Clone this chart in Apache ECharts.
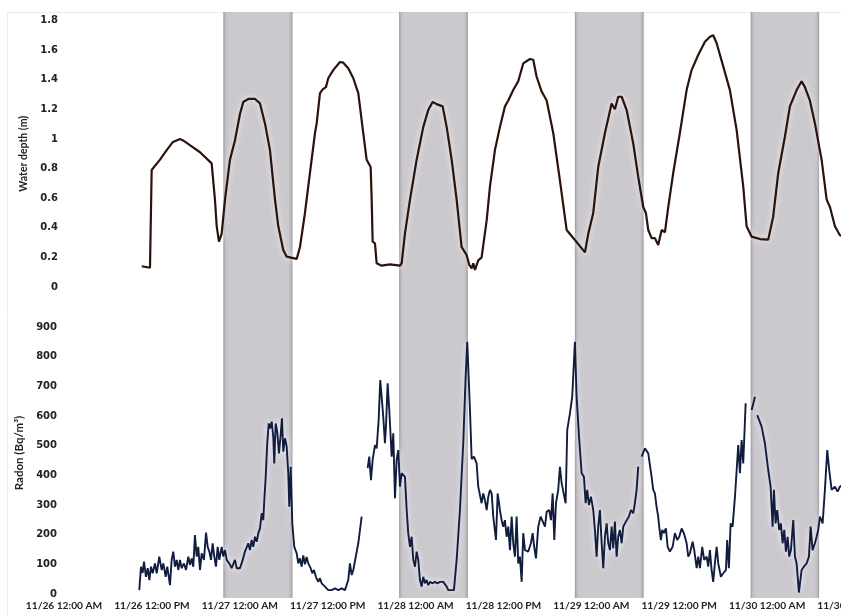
<!DOCTYPE html>
<html><head><meta charset="utf-8">
<script src="https://cdn.jsdelivr.net/npm/echarts@6/dist/echarts.min.js"></script>
<style>html,body{margin:0;padding:0;overflow:hidden;background:#fff;width:841px;height:616px}#c{width:920px;height:616px}</style>
</head><body><div id="c"></div><script>
// Time axis: hours since 11/26 12:00 AM
const xTickLabels = ['11/26 12:00 AM','11/26 12:00 PM','11/27 12:00 AM','11/27 12:00 PM','11/28 12:00 AM','11/28 12:00 PM','11/29 12:00 AM','11/29 12:00 PM','11/30 12:00 AM','11/30 12:00 PM'];
const nightStart = [21.75, 45.75, 69.75, 93.75];
const nightEnd = [31.2, 55.15, 79.15, 103.1];

// Water depth (m): [hour, depth]
const waterDepth = [
[10.61,0.14],[11.74,0.13],[11.97,0.79],[13.11,0.86],[14.02,0.925],[14.88,0.98],[15.84,1.0],[16.25,0.99],[17.43,0.95],[18.57,0.91],[20.16,0.835],[20.61,0.59],[20.85,0.41],[21.16,0.306],[21.53,0.36],[21.98,0.59],[22.66,0.86],[23.34,0.99],[24.03,1.17],[24.48,1.25],[25.16,1.27],[26.08,1.27],[26.76,1.24],[27.44,1.105],[28.12,0.925],[28.81,0.59],[29.26,0.41],[29.94,0.25],[30.40,0.205],[31.77,0.19],[32.22,0.27],[32.90,0.50],[33.58,0.77],[34.27,1.04],[34.50,1.105],[34.72,1.11],[34.95,1.31],[35.32,1.335],[35.77,1.35],[36.08,1.41],[36.76,1.465],[37.68,1.52],[38.13,1.515],[38.81,1.477],[39.50,1.41],[40.18,1.31],[40.86,1.04],[41.32,0.86],[41.87,0.81],[42.01,0.59],[42.14,0.306],[42.46,0.295],[42.69,0.16],[43.37,0.144],[44.51,0.153],[45.87,0.144],[46.10,0.16],[46.55,0.36],[47.24,0.59],[48.15,0.86],[49.05,1.08],[49.73,1.195],[50.33,1.25],[50.88,1.235],[51.70,1.22],[52.25,1.08],[52.93,0.86],[53.61,0.59],[54.29,0.27],[54.98,0.215],[55.33,0.15],[55.66,0.126],[55.88,0.16],[56.11,0.115],[56.56,0.18],[57.02,0.20],[57.71,0.45],[58.16,0.68],[58.84,0.925],[59.52,1.08],[60.21,1.22],[60.66,1.26],[61.34,1.33],[62.02,1.39],[62.70,1.51],[63.62,1.54],[64.07,1.535],[64.53,1.42],[65.22,1.32],[65.90,1.26],[66.80,1.04],[67.71,0.72],[68.63,0.385],[69.76,0.317],[71.13,0.234],[71.58,0.36],[72.26,0.50],[72.94,0.81],[73.86,1.04],[74.77,1.24],[75.22,1.20],[75.67,1.285],[76.14,1.285],[76.82,1.195],[77.72,0.97],[78.40,0.745],[79.09,0.54],[79.45,0.50],[79.77,0.385],[80.23,0.33],[80.68,0.33],[81.13,0.284],[81.60,0.385],[82.05,0.37],[82.50,0.54],[83.18,0.77],[84.09,1.04],[85.01,1.33],[85.69,1.465],[86.59,1.567],[87.51,1.657],[88.19,1.69],[88.64,1.70],[89.11,1.646],[90.01,1.49],[90.92,1.33],[91.84,1.06],[92.74,0.68],[93.20,0.41],[93.89,0.34],[95.02,0.324],[96.15,0.32],[96.83,0.475],[97.52,0.77],[98.43,1.015],[99.11,1.22],[100.03,1.33],[100.71,1.39],[101.16,1.35],[101.84,1.26],[102.53,1.105],[103.44,0.86],[104.13,0.59],[104.58,0.54],[105.26,0.41],[105.94,0.35],[106.6,0.34]
];

// Radon (Bq/m3): [hour, value]; null = gap in record
const radon = [
[10.28,13],[10.51,92],[10.74,71],[10.92,109],[11.19,58],[11.43,87],[11.65,47],[11.88,92],[12.11,70],[12.42,103],[12.66,70],[13.01,126],[13.34,81],[13.56,103],[13.88,58],[14.10,92],[14.47,30],[14.70,115],[14.92,143],[15.15,92],[15.39,115],[15.60,81],[15.84,115],[16.07,87],[16.38,103],[16.66,81],[16.97,126],[17.20,98],[17.43,120],[17.65,92],[17.88,199],[18.12,126],[18.33,159],[18.57,81],[18.80,137],[19.11,115],[19.39,207],[19.62,159],[19.84,143],[20.07,115],[20.30,171],[20.52,126],[20.75,92],[20.98,159],[21.20,115],[21.53,159],[21.75,126],[21.98,148],[22.21,115],[22.57,103],[22.89,87],[23.11,81],[23.34,115],[23.58,87],[23.80,92],[24.03,87],[24.40,115],[24.71,143],[24.94,137],[25.16,171],[25.39,148],[25.62,182],[25.84,159],[26.08,193],[26.31,176],[26.53,205],[26.76,221],[26.99,272],[27.21,249],[27.35,317],[27.54,395],[27.75,508],[27.95,575],[28.12,558],[28.36,581],[28.57,530],[28.71,440],[28.90,575],[29.12,547],[29.35,474],[29.58,536],[29.76,592],[29.94,480],[30.17,525],[30.40,497],[30.62,407],[30.76,294],[30.95,429],[31.17,238],[31.44,159],[31.77,137],[31.99,103],[32.22,120],[32.45,92],[32.67,130],[32.90,100],[33.13,125],[33.35,103],[33.68,87],[33.90,70],[34.13,81],[34.40,58],[34.72,41],[34.95,53],[35.18,36],[35.63,25],[36.08,13],[36.55,13],[37.00,19],[37.45,13],[37.91,19],[38.36,13],[38.81,47],[39.04,103],[39.28,64],[39.50,81],[39.73,81],[40.18,171],[40.64,261],
[41.2,null],
[41.46,424],[41.68,463],[41.91,384],[42.14,452],[42.46,502],[42.69,491],[42.96,586],[43.18,721],[43.41,721],[43.59,598],[43.82,508],[43.96,564],[44.19,710],[44.41,620],[44.60,530],[44.74,463],[44.96,542],[45.19,323],[45.42,452],[45.64,485],[45.87,362],[46.10,407],[46.55,395],[46.79,283],[47.00,205],[47.24,159],[47.47,193],[47.69,115],[47.92,92],[48.15,143],[48.37,115],[48.60,47],[48.83,25],[49.05,58],[49.28,36],[49.52,47],[49.73,30],[49.97,41],[50.33,36],[50.65,41],[50.96,36],[51.33,41],[51.56,36],[51.78,41],[52.25,25],[52.46,13],[52.93,13],[53.24,13],[53.61,115],[54.06,283],[54.51,508],[54.84,732],[55.06,850],[55.43,620],[55.66,455],[55.97,463],[56.34,440],[56.56,362],[56.79,362],[57.02,306],[57.24,339],[57.47,317],[57.71,283],[57.93,328],[58.16,351],[58.39,339],[58.61,261],[58.98,182],[59.21,339],[59.52,283],[59.75,249],[59.97,227],[60.20,249],[60.44,193],[60.66,227],[60.89,148],[61.12,261],[61.34,171],[61.57,126],[61.80,261],[62.02,103],[62.25,126],[62.49,41],[62.70,205],[62.94,148],[63.39,143],[63.75,171],[63.99,205],[64.20,159],[64.44,120],[64.75,227],[65.08,261],[65.35,255],[65.67,227],[65.90,277],[66.25,283],[66.49,249],[66.72,339],[66.94,182],[67.17,306],[67.48,351],[67.71,429],[67.95,373],[68.16,378],[68.49,306],[68.71,553],[69.08,609],[69.39,665],[69.76,850],[69.99,665],[70.35,519],[70.68,407],[70.99,395],[71.22,306],[71.44,351],[71.67,300],[71.95,328],[72.26,283],[72.49,216],[72.72,126],[72.94,227],[73.17,283],[73.41,171],[73.63,87],[73.86,193],[74.09,238],[74.31,171],[74.54,148],[74.77,227],[74.99,154],[75.22,244],[75.45,126],[75.67,193],[75.90,216],[76.14,171],[76.36,227],[76.59,238],[76.82,244],[77.13,261],[77.41,283],[77.72,272],[77.95,306],[78.18,351],[78.40,429],
[78.65,null],
[78.87,463],[79.32,491],[79.77,474],[80.23,395],[80.45,351],[80.68,339],[80.91,294],[81.13,261],[81.27,227],[81.50,182],[81.68,216],[81.91,205],[82.18,221],[82.42,159],[82.73,143],[83.10,159],[83.41,205],[83.73,182],[84.00,193],[84.33,221],[84.64,205],[85.01,171],[85.23,126],[85.46,137],[85.83,176],[86.05,148],[86.38,87],[86.60,126],[86.83,87],[87.14,159],[87.41,115],[87.74,126],[87.96,92],[88.19,148],[88.42,81],[88.64,41],[88.87,103],[89.11,159],[89.33,103],[89.69,58],[90.01,70],[90.38,81],[90.55,182],[90.78,87],[91.02,238],[91.29,227],[91.61,328],[91.84,322],[92.06,502],[92.29,407],[92.52,519],[92.74,440],[93.07,643],
[93.5,null],
[93.89,620],[94.34,665],
[94.5,null],
[94.65,603],[95.25,564],[95.70,508],[96.15,418],[96.48,362],[96.75,227],[96.93,351],[97.16,238],[97.38,283],[97.65,216],[97.88,238],[98.12,171],[98.34,216],[98.57,143],[98.80,193],[99.02,126],[99.25,148],[99.57,249],[99.80,126],[100.03,103],[100.34,5],[100.71,81],[101.02,92],[101.39,103],[101.71,126],[101.94,227],[102.21,148],[102.53,171],[102.76,193],[102.98,216],[103.21,261],[103.58,238],[103.89,351],[104.21,485],[104.48,418],[104.81,351],[105.26,362],[105.62,345],[105.94,362],[106.5,370]
];

const TXT = '#222222';
const xBase = {type:'value', min:0, max:108, interval:12, axisLine:{show:false}, axisTick:{show:false}, splitLine:{show:false}};
const yLab = {fontFamily:'DejaVu Sans', fontWeight:'bold', fontSize:10, color:TXT};

const chart = echarts.init(document.getElementById('c'), null, {renderer:'canvas'});
const bandFill = new echarts.graphic.LinearGradient(0,0,1,0,[
  {offset:0,color:'#9c9a9f'},{offset:0.035,color:'#c3c0c6'},{offset:0.08,color:'#cbc8ce'},
  {offset:0.92,color:'#cbc8ce'},{offset:0.965,color:'#c3c0c6'},{offset:1,color:'#9c9a9f'}]);

chart.setOption({
  animation:false,
  backgroundColor:'#ffffff',
  textStyle:{fontFamily:'Lato'},
  graphic:[{type:'rect', shape:{x:7.5,y:12.5,width:950,height:700}, style:{fill:'none', stroke:'#ececec', lineWidth:1}, silent:true, z:-1}],
  grid:[
    {left:64, width:791, top:20.5, height:266.5},
    {left:64, width:791, top:327, height:267},
    {left:64, width:791, top:12, height:586}
  ],
  xAxis:[
    Object.assign({gridIndex:0, axisLabel:{show:false}}, xBase),
    Object.assign({gridIndex:1, axisLabel:{show:true, showMinLabel:true, showMaxLabel:true, margin:7,
      fontFamily:'Lato', fontWeight:'bold', fontSize:10.2, color:TXT,
      formatter:v => xTickLabels[Math.round(v/12)] || ''}}, xBase),
    Object.assign({gridIndex:2, show:false}, xBase)
  ],
  yAxis:[
    {gridIndex:0, type:'value', min:0, max:1.8, interval:0.2,
     name:'Water depth (m)', nameLocation:'middle', nameRotate:90, nameGap:32,
     nameTextStyle:{fontFamily:'Lato', fontWeight:'bold', fontSize:10.5, color:TXT},
     axisLine:{show:false}, axisTick:{show:false}, splitLine:{show:false},
     axisLabel:Object.assign({margin:6}, yLab)},
    {gridIndex:1, type:'value', min:0, max:900, interval:100,
     name:'Radon (Bq/m\u00B3)', nameLocation:'middle', nameRotate:90, nameGap:36,
     nameTextStyle:{fontFamily:'Lato', fontWeight:'bold', fontSize:11.5, color:TXT, padding:[0,0,0,15]},
     axisLine:{show:false}, axisTick:{show:false}, splitLine:{show:false},
     axisLabel:Object.assign({margin:7}, yLab)},
    {gridIndex:2, type:'value', min:0, max:1, show:false}
  ],
  series:[
    {type:'line', xAxisIndex:2, yAxisIndex:2, data:[], z:1, silent:true,
     markArea:{silent:true, itemStyle:{color:bandFill},
       data: nightStart.map((s,i)=>[{xAxis:s},{xAxis:nightEnd[i]}])}},
    {type:'line', name:'Water depth', xAxisIndex:0, yAxisIndex:0, data:waterDepth, showSymbol:false, z:3,
     lineStyle:{color:'#2a130a', width:2.2, shadowColor:'#ffffff', shadowBlur:6}},
    {type:'line', name:'Radon', xAxisIndex:1, yAxisIndex:1, data:radon, showSymbol:false, connectNulls:false, z:3,
     lineStyle:{color:'#111d3e', width:1.9, shadowColor:'#ffffff', shadowBlur:6}}
  ]
});
</script></body></html>
